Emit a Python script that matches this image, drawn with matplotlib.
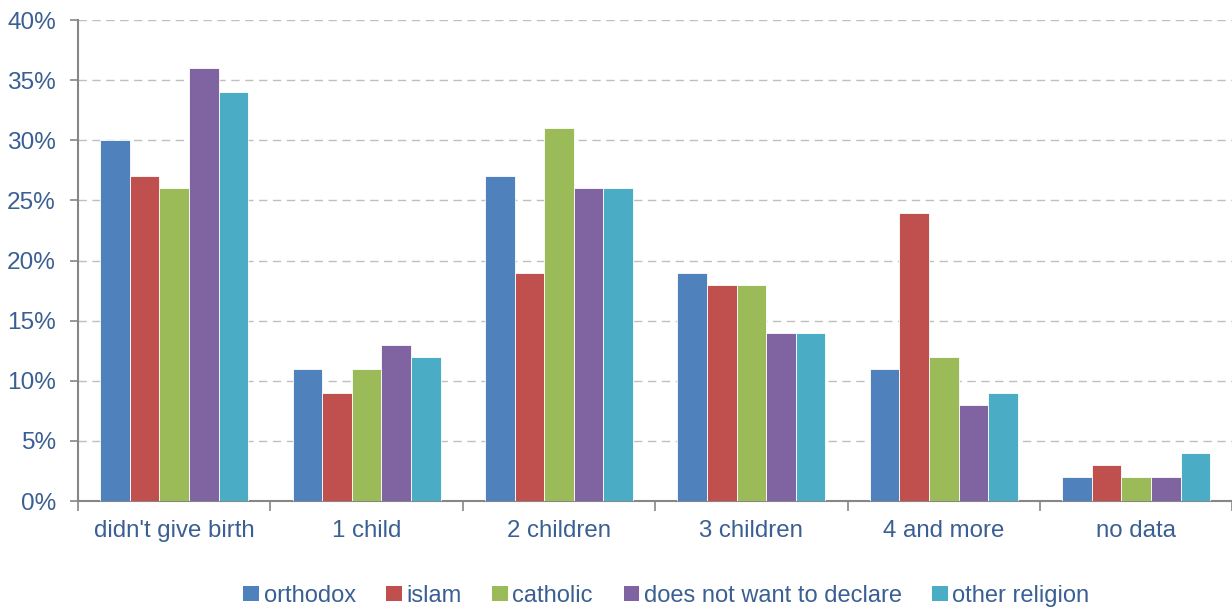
import numpy as np
import matplotlib.pyplot as plt
from matplotlib.patches import Patch

categories = ["didn't give birth", "1 child", "2 children", "3 children", "4 and more", "no data"]
orthodox = [30, 11, 27, 19, 11, 2]
islam = [27, 9, 19, 18, 24, 3]
catholic = [26, 11, 31, 18, 12, 2]
not_declare = [36, 13, 26, 14, 8, 2]
other = [34, 12, 26, 14, 9, 4]

series = [("orthodox", orthodox, "#4F81BD"),
          ("islam", islam, "#C0504D"),
          ("catholic", catholic, "#9BBB59"),
          ("does not want to declare", not_declare, "#8064A2"),
          ("other religion", other, "#4BACC6")]

plt.rcParams['font.family'] = ['Liberation Sans', 'DejaVu Sans']
text_color = "#3A5F93"

fig = plt.figure(figsize=(12.32, 6.11), dpi=100)
ax = fig.add_axes([0.0633, 0.18, 0.937, 0.787])

x = np.arange(len(categories))
w = 0.154
for i, (name, vals, col) in enumerate(series):
    ax.bar(x + (i - 2) * w, vals, w, color=col, edgecolor="white", linewidth=0.6, zorder=3)

ax.set_xlim(-0.5, len(categories) - 0.5)
ax.set_ylim(0, 40)
ax.set_yticks(range(0, 41, 5))
ax.set_yticklabels([f"{v}%" for v in range(0, 41, 5)])
ax.yaxis.grid(True, color="#BFBFBF", linestyle=(0, (6, 4)), linewidth=1, zorder=0)

ax.set_xticks(x)
ax.set_xticklabels(categories)
ax.set_xticks(np.arange(-0.5, len(categories), 1), minor=True)
ax.tick_params(axis="x", which="major", length=0, pad=14, labelsize=17.3, labelcolor=text_color)
ax.tick_params(axis="x", which="minor", length=7, width=1.2, color="#868686", direction="out")
ax.tick_params(axis="y", length=6, width=1.2, color="#868686", labelsize=17.6, labelcolor=text_color, pad=10)

for s in ["top", "right"]:
    ax.spines[s].set_visible(False)
for s in ["left", "bottom"]:
    ax.spines[s].set_color("#868686")
    ax.spines[s].set_linewidth(1.5)

handles = [Patch(facecolor=c, label=n) for n, _, c in series]
leg = fig.legend(handles=handles, loc="lower center", bbox_to_anchor=(0.541, -0.028), ncol=5,
                 frameon=False, fontsize=17, handlelength=0.65, handleheight=0.65,
                 handletextpad=0.2, columnspacing=1.3)
for t in leg.get_texts():
    t.set_color(text_color)

fig.savefig("out.png", dpi=100)
